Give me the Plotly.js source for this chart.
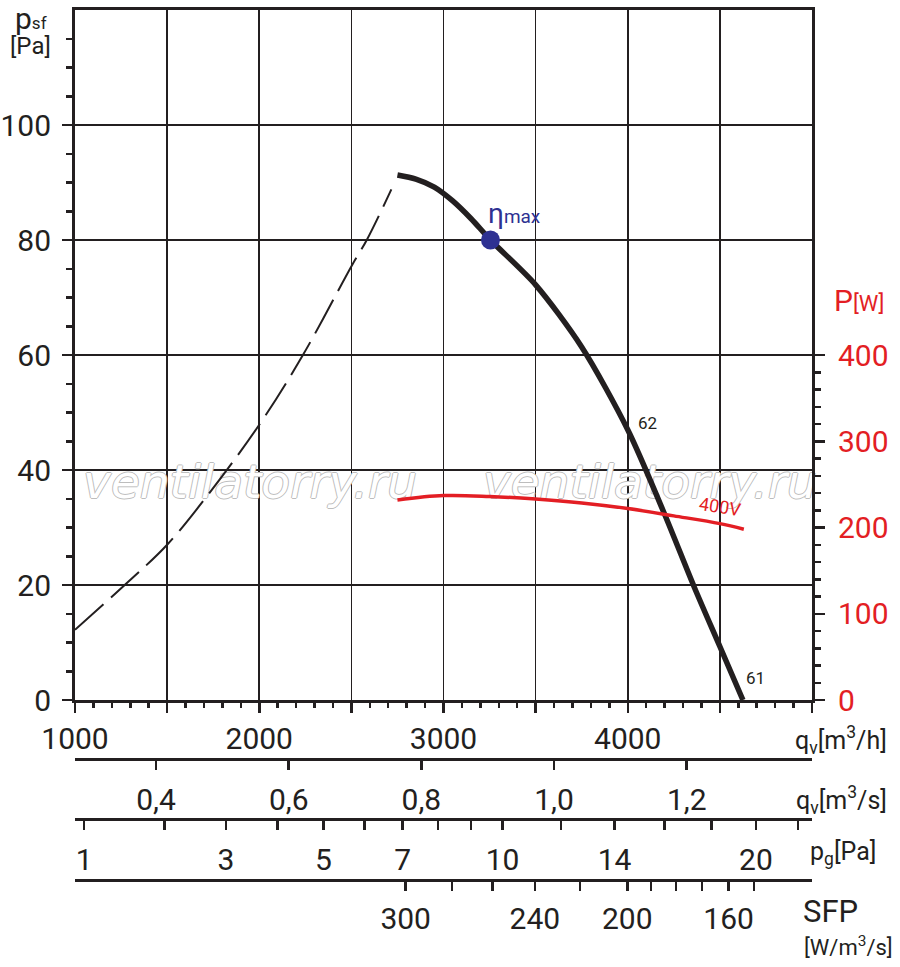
<!DOCTYPE html>
<html>
<head>
<meta charset="utf-8">
<script src="https://cdn.plot.ly/plotly-3.0.1.min.js"></script>
<style>
  html, body { margin: 0; padding: 0; background: #fff; }
  #chart { width: 900px; height: 967px; }
</style>
</head>
<body>
<div id="chart"></div>
<script>
// fan curve p_sf [Pa] vs q_v [m3/h], solid part (working range)
const qvFan  = [2750, 2850, 2950, 3050, 3150, 3255, 3500, 3750, 4000, 4200, 4360, 4500, 4625];
const psfFan = [91.3, 90.6, 89.2, 86.8, 83.7, 80.0, 72.2, 61.4, 47.0, 32.3, 19.7, 9.3, 0];

// dashed part (stall region)
const qvStall  = [1000, 1280, 1500, 1715, 2005, 2237, 2505, 2585, 2717];
const psfStall = [12.2, 20.3, 27.0, 35.4, 48.1, 60.0, 75.7, 80.1, 88.8];

// input power P [W], 400V
const qvPower = [2750, 3000, 3250, 3500, 3750, 4000, 4250, 4500, 4630];
const powerW  = [232, 237, 236, 233, 228.5, 222, 213.5, 204.5, 198];

// point of max efficiency
const etaQv  = [3255];
const etaPsf = [80];

// tick labels
const psfTicks   = [0, 20, 40, 60, 80, 100];
const powerTicks = [0, 100, 200, 300, 400];
const qvhLabels  = [1000, 2000, 3000, 4000];
const qvsTicks   = [0.4, 0.6, 0.8, 1.0, 1.2];
const pgTicks    = [1, 2, 3, 4, 5, 6, 7, 8, 9, 10, 12, 14, 16, 18, 20, 22];
const pgLabels   = [1, 3, 5, 7, 10, 14, 20];
const sfpTicks   = [300, 280, 260, 240, 220, 200, 190, 180, 170, 160, 150];
const sfpLabels  = [300, 240, 200, 160];

// dynamic pressure scale: q_v [m3/h] = K * sqrt(p_g)
const pgK = 1050;

const ink = '#231f20';
const red = '#e31e24';
const blue = '#2e3192';
const FONT = 'Roboto, "DejaVu Sans", sans-serif';

function powerAt(q) {
    const n = qvPower.length;
    let i = 0;
    if (q >= qvPower[n - 1]) i = n - 2;
    else while (i < n - 2 && q > qvPower[i + 1]) i++;
    const t = (q - qvPower[i]) / (qvPower[i + 1] - qvPower[i]);
    return powerW[i] + t * (powerW[i + 1] - powerW[i]);
}
// SFP = P / q_v[m3/s], find q_v for given SFP (decreasing with q)
function qvForSfp(s) {
    let lo = 2500, hi = 5000;
    for (let k = 0; k < 60; k++) {
        const mid = (lo + hi) / 2;
        const sfp = powerAt(mid) / (mid / 3600);
        if (sfp > s) lo = mid; else hi = mid;
    }
    return (lo + hi) / 2;
}

const qvhTicks = [];
const qvhText = [];
for (let v = 1000; v <= 5000; v += 500) {
    qvhTicks.push(v);
    qvhText.push(qvhLabels.includes(v) ? String(v) : '');
}
const qvhMinor = [];
for (let v = 1100; v < 5000; v += 100) if (v % 500 !== 0) qvhMinor.push(v);
const psfMinor = [];
for (let v = 5; v < 120; v += 5) if (v % 20 !== 0) psfMinor.push(v);
const powMinor = [];
for (let v = 20; v < 400; v += 20) if (v % 100 !== 0) powMinor.push(v);

const pgPos = pgTicks.map(p => pgK * Math.sqrt(p));
const pgText = pgTicks.map(p => pgLabels.includes(p) ? String(p) : '');
const sfpPos = sfpTicks.map(qvForSfp);
const sfpText = sfpTicks.map(s => sfpLabels.includes(s) ? String(s) : '');

// layout geometry
const W = 900, H = 967;
const mL = 75, mR = 88, mT = 10, mB = 60;
const plotW = W - mL - mR, paperH = H - mT - mB;
const yBottomPx = 700;
const px2py = y => (H - mB - y) / paperH;
const px2px = x => (x - mL) / plotW;

const tickFont = {family: FONT, size: 30, color: ink};

const traces = [
    {
        x: [1950, 4120], y: [37.2, 37.2], mode: 'text', text: ['ventilatorry.ru', 'ventilatorry.ru'],
        textfont: {family: '"DejaVu Sans", sans-serif', size: 47, style: 'italic', color: '#ffffff',
                   shadow: '1px 0 0 #bdbdbd, -1px 0 0 #bdbdbd, 0 1px 0 #bdbdbd, 0 -1px 0 #bdbdbd'},
        cliponaxis: false, hoverinfo: 'skip', showlegend: false
    },
    {
        x: qvStall, y: psfStall, mode: 'lines', line: {color: ink, width: 2, dash: '38px,10px', shape: 'spline'},
        hoverinfo: 'skip', showlegend: false
    },
    {
        x: qvFan, y: psfFan, mode: 'lines', line: {color: ink, width: 5.5, shape: 'spline', smoothing: 0.8},
        cliponaxis: false, showlegend: false
    },
    {
        x: qvPower, y: powerW, yaxis: 'y2', mode: 'lines', line: {color: red, width: 3.5, shape: 'spline'},
        showlegend: false
    },
    {
        x: etaQv, y: etaPsf, mode: 'markers', marker: {color: blue, size: 19},
        cliponaxis: false, showlegend: false
    },
    // empty traces so that the extra scales below the chart are drawn
    {x: [1000 / 3600, 5000 / 3600], y: [null, null], xaxis: 'x2', mode: 'lines', hoverinfo: 'skip', showlegend: false},
    {x: [1000, 5000], y: [null, null], xaxis: 'x3', mode: 'lines', hoverinfo: 'skip', showlegend: false},
    {x: [1000, 5000], y: [null, null], xaxis: 'x4', mode: 'lines', hoverinfo: 'skip', showlegend: false}
];

const extraAxis = {
    overlaying: 'x', anchor: 'free', side: 'bottom', domain: [0, 1],
    showline: true, linewidth: 3, linecolor: ink, showgrid: false, zeroline: false,
    ticks: 'outside', ticklen: 9, tickwidth: 2.5, tickcolor: ink,
    tickmode: 'array', tickfont: tickFont
};

const layout = {
    width: W, height: H,
    margin: {l: mL, r: mR, t: mT, b: mB},
    paper_bgcolor: '#ffffff', plot_bgcolor: '#ffffff',
    font: {family: FONT, color: ink},
    showlegend: false,
    xaxis: {
        range: [1000, 5000], domain: [0, 1], anchor: 'y',
        showline: true, linewidth: 3, linecolor: ink, mirror: true,
        showgrid: true, gridcolor: ink, gridwidth: 1.6, zeroline: false,
        tickmode: 'array', tickvals: qvhTicks, ticktext: qvhText,
        ticks: 'outside', ticklen: 10, tickwidth: 2.5, tickcolor: ink,
        minor: {tickmode: 'array', tickvals: qvhMinor, ticks: 'outside', ticklen: 5, tickwidth: 2.5, tickcolor: ink, showgrid: false},
        tickfont: tickFont, ticklabelstandoff: 0
    },
    xaxis2: Object.assign({}, extraAxis, {
        range: [1000 / 3600, 5000 / 3600], position: px2py(759),
        tickvals: qvsTicks, ticktext: qvsTicks.map(v => v.toFixed(1).replace('.', ',')),
        ticklabelstandoff: 4
    }),
    xaxis3: Object.assign({}, extraAxis, {
        range: [1000, 5000], position: px2py(819),
        tickvals: pgPos, ticktext: pgText, ticklabelstandoff: 4
    }),
    xaxis4: Object.assign({}, extraAxis, {
        range: [1000, 5000], position: px2py(880),
        tickvals: sfpPos, ticktext: sfpText, ticklabelstandoff: 2
    }),
    yaxis: {
        range: [0, 120], domain: [px2py(yBottomPx), 1], anchor: 'x',
        showline: true, linewidth: 3, linecolor: ink,
        showgrid: true, gridcolor: ink, gridwidth: 1.6, zeroline: false,
        tickmode: 'array', tickvals: psfTicks, ticktext: psfTicks.map(String),
        ticks: 'outside', ticklen: 10, tickwidth: 2.5, tickcolor: ink,
        minor: {tickmode: 'array', tickvals: psfMinor, ticks: 'outside', ticklen: 6, tickwidth: 2.5, tickcolor: ink, showgrid: false},
        tickfont: tickFont, ticklabelstandoff: 5
    },
    yaxis2: {
        range: [0, 800], overlaying: 'y', side: 'right', anchor: 'x',
        showline: true, linewidth: 3, linecolor: ink, showgrid: false, zeroline: false,
        tickmode: 'array', tickvals: powerTicks, ticktext: powerTicks.map(String),
        ticks: 'outside', ticklen: 10, tickwidth: 2.5, tickcolor: ink,
        minor: {tickmode: 'array', tickvals: powMinor, ticks: 'outside', ticklen: 6, tickwidth: 2.5, tickcolor: ink, showgrid: false},
        tickfont: {family: FONT, size: 30, color: red}, ticklabelstandoff: 7
    },
    annotations: [
        {xref: 'paper', yref: 'paper', x: px2px(31), y: px2py(18), text: 'p<span style="font-size:17px">sf</span>', showarrow: false,
         font: {size: 30, color: ink}, xanchor: 'center', yanchor: 'middle'},
        {xref: 'paper', yref: 'paper', x: px2px(30), y: px2py(46), text: '[Pa]', showarrow: false,
         font: {size: 24, color: ink}, xanchor: 'center', yanchor: 'middle'},
        {xref: 'paper', yref: 'paper', x: px2px(859), y: px2py(300), text: 'P<span style="font-size:22px">[W]</span>', showarrow: false,
         font: {size: 30, color: red}, xanchor: 'center', yanchor: 'middle'},
        {xref: 'paper', yref: 'paper', x: px2px(889), y: px2py(740), text: 'q<sub>v</sub>[m<sup>3</sup>/h]', showarrow: false,
         font: {size: 25, color: ink}, xanchor: 'right', yanchor: 'middle'},
        {xref: 'paper', yref: 'paper', x: px2px(889), y: px2py(800), text: 'q<sub>v</sub>[m<sup>3</sup>/s]', showarrow: false,
         font: {size: 25, color: ink}, xanchor: 'right', yanchor: 'middle'},
        {xref: 'paper', yref: 'paper', x: px2px(878), y: px2py(853), text: 'p<sub>g</sub>[Pa]', showarrow: false,
         font: {size: 25, color: ink}, xanchor: 'right', yanchor: 'middle'},
        {xref: 'paper', yref: 'paper', x: px2px(830), y: px2py(912), text: 'SFP', showarrow: false,
         font: {size: 31, color: ink}, xanchor: 'center', yanchor: 'middle'},
        {xref: 'paper', yref: 'paper', x: px2px(848), y: px2py(946), text: '[W/m<sup>3</sup>/s]', showarrow: false,
         font: {size: 22, color: ink}, xanchor: 'center', yanchor: 'middle'},
        {x: etaQv[0], y: etaPsf[0], text: 'η<span style="font-size:19px">max</span>', showarrow: false,
         xshift: 24, yshift: 27, font: {size: 28, color: blue}},
        {x: 4105, y: 48.2, text: '62', showarrow: false, font: {size: 17, color: ink}},
        {x: 4696, y: 3.8, text: '61', showarrow: false, font: {size: 17, color: ink}},
        {x: 4500, y: 33.6, text: '400V', showarrow: false, textangle: 9, font: {size: 18, color: red}}
    ]
};

Plotly.newPlot('chart', traces, layout, {displayModeBar: false, staticPlot: true});
</script>
</body>
</html>
